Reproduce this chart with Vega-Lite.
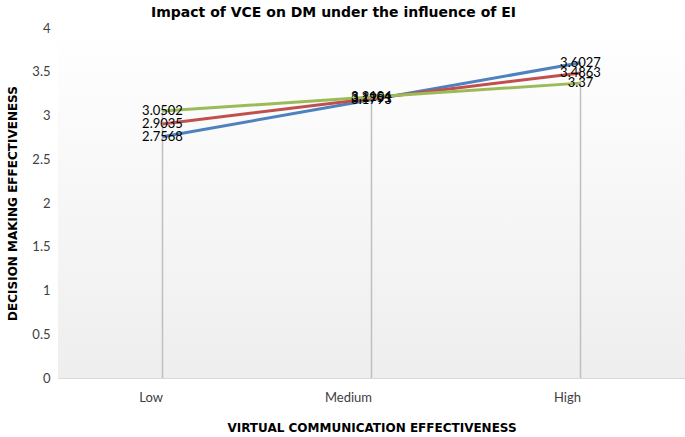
{
  "$schema": "https://vega.github.io/schema/vega-lite/v6.json",
  "autosize": "none",
  "width": 627,
  "height": 350,
  "padding": {"left": 58, "top": 28, "right": 0, "bottom": 59},
  "background": "white",
  "config": {"view": {"stroke": null}, "font": "Lato"},
  "title": {
    "text": "Impact of VCE on DM under the influence of EI",
    "font": "DejaVu Sans",
    "fontSize": 14,
    "fontWeight": "bold",
    "color": "#000000",
    "anchor": "middle",
    "dx": -38,
    "offset": 2
  },
  "datasets": {
    "main": [
      {"level": "Low", "series": "A", "value": 2.7568},
      {"level": "Medium", "series": "A", "value": 3.1793},
      {"level": "High", "series": "A", "value": 3.6027},
      {"level": "Low", "series": "B", "value": 2.9035},
      {"level": "Medium", "series": "B", "value": 3.1951},
      {"level": "High", "series": "B", "value": 3.4863},
      {"level": "Low", "series": "C", "value": 3.0502},
      {"level": "Medium", "series": "C", "value": 3.2104},
      {"level": "High", "series": "C", "value": 3.37}
    ]
  },
  "layer": [
    {
      "data": {"values": [{"bg": 1}]},
      "mark": {
        "type": "rect",
        "fill": {
          "gradient": "linear", "x1": 0, "y1": 0, "x2": 0, "y2": 1,
          "stops": [{"offset": 0, "color": "#ffffff"}, {"offset": 1, "color": "#eeeeee"}]
        }
      },
      "encoding": {
        "y": {"datum": 4, "type": "quantitative"},
        "y2": {"datum": 0}
      }
    },
    {
      "data": {"name": "main"},
      "transform": [{"aggregate": [{"op": "max", "field": "value", "as": "maxv"}], "groupby": ["level"]}],
      "mark": {"type": "rule", "color": "#bfbfbf", "strokeWidth": 1.5},
      "encoding": {
        "x": {"field": "level", "type": "ordinal", "sort": ["Low", "Medium", "High"]},
        "y": {"field": "maxv", "type": "quantitative"},
        "y2": {"datum": 0}
      }
    },
    {
      "data": {"name": "main"},
      "mark": {"type": "line", "strokeWidth": 3},
      "encoding": {
        "x": {
          "field": "level", "type": "ordinal", "sort": ["Low", "Medium", "High"],
          "scale": {"type": "point", "padding": 0.5},
          "axis": {
            "title": "VIRTUAL COMMUNICATION EFFECTIVENESS",
            "titleFont": "DejaVu Sans", "titleFontSize": 12, "titleFontWeight": "bold", "titleColor": "#000000",
            "titlePadding": 18,
            "labelAngle": 0, "labelFontSize": 13, "labelColor": "#404040", "labelPadding": 19,
            "ticks": false, "domainColor": "#d9d9d9", "domainWidth": 1, "grid": false
          }
        },
        "y": {
          "field": "value", "type": "quantitative",
          "scale": {"domain": [0, 4], "nice": false},
          "axis": {
            "title": "DECISION MAKING EFFECTIVENESS",
            "titleFont": "DejaVu Sans", "titleFontSize": 12, "titleFontWeight": "bold", "titleColor": "#000000",
            "titlePadding": 12,
            "values": [0, 0.5, 1, 1.5, 2, 2.5, 3, 3.5, 4],
            "format": "~g",
            "labelFontSize": 13, "labelColor": "#404040", "labelPadding": 8,
            "ticks": false, "domain": false, "grid": false
          }
        },
        "color": {
          "field": "series", "type": "nominal",
          "scale": {"domain": ["A", "B", "C"], "range": ["#4f81bd", "#c0504d", "#9bbb59"]},
          "legend": null
        }
      }
    },
    {
      "data": {"name": "main"},
      "mark": {"type": "text", "fontSize": 13, "color": "#000000", "align": "center", "baseline": "middle"},
      "encoding": {
        "x": {"field": "level", "type": "ordinal", "sort": ["Low", "Medium", "High"]},
        "y": {"field": "value", "type": "quantitative"},
        "text": {"field": "value", "type": "nominal"}
      }
    }
  ]
}
